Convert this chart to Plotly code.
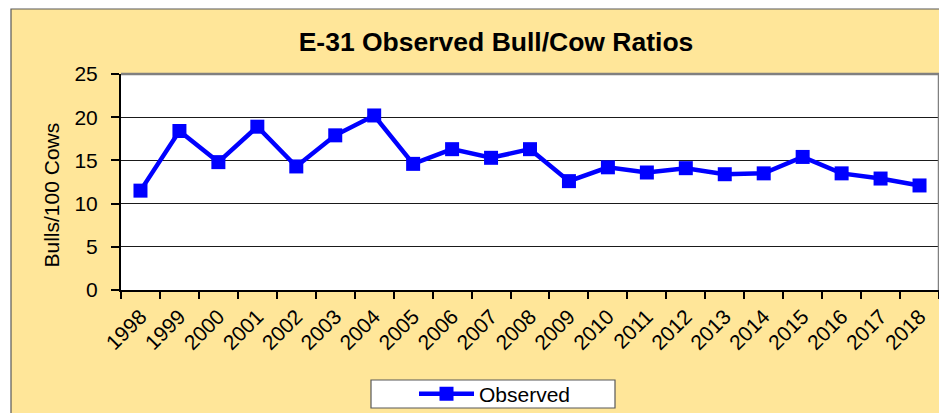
import plotly.graph_objects as go

years = [str(y) for y in range(1998, 2019)]
observed = [11.5, 18.4, 14.8, 18.9, 14.3, 17.9, 20.2, 14.6, 16.3, 15.3, 16.3,
            12.6, 14.2, 13.6, 14.1, 13.4, 13.5, 15.4, 13.5, 12.9, 12.1]
y_ticks = [0, 5, 10, 15, 20, 25]

FONT = "Liberation Sans, Arial, sans-serif"
BG = "#FFE699"

fig = go.Figure()
fig.add_trace(go.Scatter(
    x=years, y=observed, mode="lines+markers", name="Observed",
    line=dict(color="#0000FF", width=4.5),
    marker=dict(symbol="square", size=14, color="#0000FF"),
))

# page body has an 8px margin; figure coordinates = screen coordinates - 8
OFF = 8
W, H = 947 - OFF, 413 - OFF
L, R, T, B = 121 - OFF, 8, 74 - OFF, 123
pw, ph = W - L - R, H - T - B

def px_x(p):
    return (p - OFF - L) / pw

def px_y(p):
    return (H - B - (p - OFF)) / ph

shapes = [
    # chart area background
    dict(type="rect", xref="paper", yref="paper", layer="below",
         x0=px_x(11), x1=px_x(947 + 5), y0=px_y(413 + 5), y1=px_y(9),
         fillcolor=BG, line=dict(color="#595959", width=1.2)),
    # plot area background
    dict(type="rect", xref="paper", yref="paper", layer="below",
         x0=0, x1=1, y0=0, y1=1, fillcolor="white", line=dict(width=0)),
    # legend box
    dict(type="rect", xref="paper", yref="paper", layer="below",
         x0=px_x(371), x1=px_x(615), y0=px_y(408), y1=px_y(380),
         fillcolor="white", line=dict(color="#595959", width=1.2)),
    # plot-area border (top & right, gray)
    dict(type="path", xref="x domain", yref="y domain", layer="above",
         path="M 0 1 L 1 1 L 1 0", line=dict(color="#808080", width=2.5)),
]

fig.update_layout(
    width=W, height=H,
    margin=dict(l=L, r=R, t=T, b=B, autoexpand=False),
    paper_bgcolor="white", plot_bgcolor="rgba(0,0,0,0)",
    font=dict(family=FONT, color="black"),
    title=dict(text="<b>E-31 Observed Bull/Cow Ratios</b>", font=dict(size=26.5, family=FONT),
               x=(496 - OFF) / W, xref="container", xanchor="center",
               y=1 - (42 - OFF) / H, yref="container", yanchor="middle"),
    showlegend=True,
    legend=dict(orientation="h", x=px_x(414), xanchor="left",
                y=px_y(394), yanchor="middle",
                bgcolor="rgba(0,0,0,0)", borderwidth=0,
                font=dict(size=21, family=FONT), itemwidth=55),
    shapes=shapes,
    annotations=[dict(text="Bulls/100 Cows", textangle=-90, showarrow=False,
                      xref="paper", yref="paper", x=px_x(50.5), y=px_y(195),
                      xanchor="center", yanchor="middle",
                      font=dict(size=21, family=FONT))],
    xaxis=dict(type="category", tickson="boundaries", ticks="outside", ticklen=7,
               tickcolor="black", tickwidth=1.5, tickangle=-45, automargin=False,
               tickfont=dict(size=21, family=FONT), ticklabelstandoff=4,
               showline=True, linecolor="#000000", linewidth=2, showgrid=False,
               range=[-0.5, len(years) - 0.5]),
    yaxis=dict(range=[0, 25], tickvals=y_ticks, ticks="outside", ticklen=8,
               tickcolor="black", tickwidth=1.5, automargin=False,
               tickfont=dict(size=21, family=FONT), ticklabelstandoff=9,
               showline=True, linecolor="#000000", linewidth=2,
               showgrid=True, gridcolor="#1a1a1a", gridwidth=1, zeroline=False),
)

fig.write_html("out.html")
